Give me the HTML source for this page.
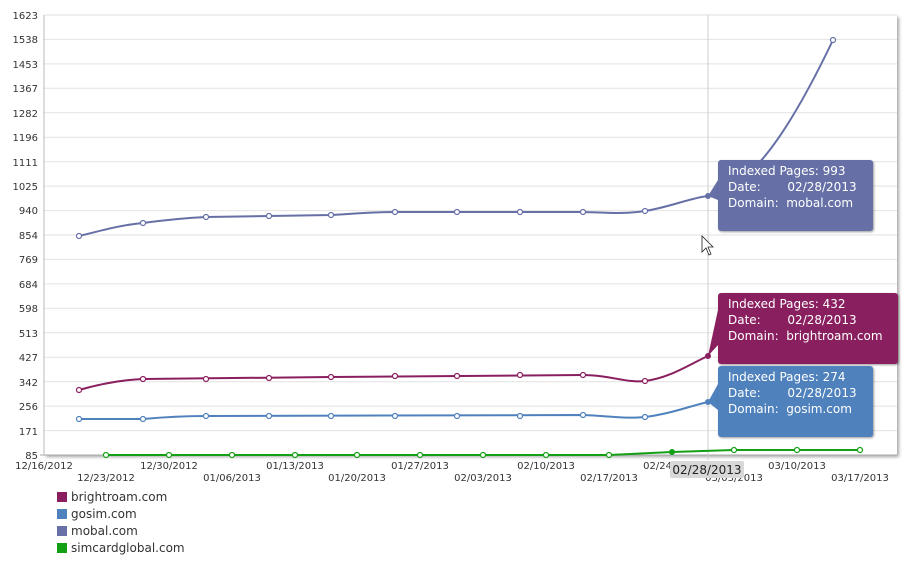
<!DOCTYPE html>
<html><head><style>
body{margin:0;background:#fff;font-family:"DejaVu Sans","Liberation Sans",sans-serif;}
.tt{position:absolute;color:#fff;font-size:12px;line-height:16px;padding:3px 10px;border-radius:3px;box-shadow:1px 1px 2px rgba(0,0,0,.4);white-space:pre;}
.lg{position:absolute;left:57px;font-size:12px;color:#333;}
.lg span{display:inline-block;width:10px;height:10px;margin-right:4px;vertical-align:-1px;}
</style></head><body>
<div style="position:relative;width:920px;height:567px;">
<svg width="920" height="567" style="position:absolute;left:0;top:0" font-family="DejaVu Sans, Liberation Sans, sans-serif" font-size="10" fill="#333">
<defs><filter id="sh"><feDropShadow dx="2" dy="2" stdDeviation="1.5" flood-opacity="0.35"/></filter></defs>
<rect x="44" y="15" width="853" height="440" fill="#fff" filter="url(#sh)"/>
<g stroke="#e2e2e2">
<line x1="44" x2="897" y1="15" y2="15"/><line x1="44" x2="897" y1="39.4" y2="39.4"/><line x1="44" x2="897" y1="63.9" y2="63.9"/><line x1="44" x2="897" y1="88.3" y2="88.3"/><line x1="44" x2="897" y1="112.8" y2="112.8"/><line x1="44" x2="897" y1="137.2" y2="137.2"/><line x1="44" x2="897" y1="161.7" y2="161.7"/><line x1="44" x2="897" y1="186.1" y2="186.1"/><line x1="44" x2="897" y1="210.6" y2="210.6"/><line x1="44" x2="897" y1="235" y2="235"/><line x1="44" x2="897" y1="259.4" y2="259.4"/><line x1="44" x2="897" y1="283.9" y2="283.9"/><line x1="44" x2="897" y1="308.3" y2="308.3"/><line x1="44" x2="897" y1="332.8" y2="332.8"/><line x1="44" x2="897" y1="357.2" y2="357.2"/><line x1="44" x2="897" y1="381.7" y2="381.7"/><line x1="44" x2="897" y1="406.1" y2="406.1"/><line x1="44" x2="897" y1="430.6" y2="430.6"/>
</g>
<line x1="44" y1="15" x2="44" y2="455" stroke="#bbb"/>
<line x1="40" y1="455" x2="897" y2="455" stroke="#aaa"/>
<line x1="708" y1="15" x2="708" y2="460" stroke="#ccc"/>
<g text-anchor="end">
<text x="38" y="19">1623</text><text x="38" y="43">1538</text><text x="38" y="68">1453</text><text x="38" y="92">1367</text><text x="38" y="117">1282</text><text x="38" y="141">1196</text><text x="38" y="166">1111</text><text x="38" y="190">1025</text><text x="38" y="214">940</text><text x="38" y="239">854</text><text x="38" y="263">769</text><text x="38" y="288">684</text><text x="38" y="312">598</text><text x="38" y="337">513</text><text x="38" y="361">427</text><text x="38" y="386">342</text><text x="38" y="410">256</text><text x="38" y="435">171</text><text x="38" y="459">85</text>
</g>
<g text-anchor="middle">
<text x="44" y="469">12/16/2012</text><text x="106" y="481">12/23/2012</text><text x="169" y="469">12/30/2012</text><text x="232" y="481">01/06/2013</text><text x="295" y="469">01/13/2013</text><text x="357" y="481">01/20/2013</text><text x="420" y="469">01/27/2013</text><text x="483" y="481">02/03/2013</text><text x="546" y="469">02/10/2013</text><text x="609" y="481">02/17/2013</text><text x="672" y="469">02/24/2013</text><text x="734" y="481">03/03/2013</text><text x="797" y="469">03/10/2013</text><text x="860" y="481">03/17/2013</text>
</g>
<g fill="none" stroke-width="2">
<path stroke="#6670a6" d="M79 236 C100 231,120 225,143 223 C165 220,185 218,206 217 L331 215 C350 214,370 212,395 212 L583 212 C610 213,625 214,645 211 C670 207,690 198,708 196 C750 190,790 130,833 40"/>
<path stroke="#8a1f5f" d="M79 390 C100 384,120 380,143 379 L331 377 L583 375 C610 375,625 383,645 381 C670 378,690 364,708 356"/>
<path stroke="#4f81bd" d="M79 419 L143 419 C165 417,185 416,206 416 L583 415 C610 416,625 419,645 417 C670 414,690 406,708 402"/>
<path stroke="#14a014" d="M106 455 L609 455 L672 452 L734 450 L860 450"/>
</g>
<g fill="#fff" stroke-width="1.2">
<g stroke="#6670a6"><circle cx="79" cy="236" r="2.5"/><circle cx="143" cy="223" r="2.5"/><circle cx="206" cy="217" r="2.5"/><circle cx="269" cy="216" r="2.5"/><circle cx="331" cy="215" r="2.5"/><circle cx="395" cy="212" r="2.5"/><circle cx="457" cy="212" r="2.5"/><circle cx="520" cy="212" r="2.5"/><circle cx="583" cy="212" r="2.5"/><circle cx="645" cy="211" r="2.5"/><circle cx="833" cy="40" r="2.5"/></g>
<g stroke="#8a1f5f"><circle cx="79" cy="390" r="2.5"/><circle cx="143" cy="379" r="2.5"/><circle cx="206" cy="379" r="2.5"/><circle cx="269" cy="378" r="2.5"/><circle cx="331" cy="377" r="2.5"/><circle cx="395" cy="376" r="2.5"/><circle cx="457" cy="376" r="2.5"/><circle cx="520" cy="375" r="2.5"/><circle cx="583" cy="375" r="2.5"/><circle cx="645" cy="381" r="2.5"/></g>
<g stroke="#4f81bd"><circle cx="79" cy="419" r="2.5"/><circle cx="143" cy="419" r="2.5"/><circle cx="206" cy="416" r="2.5"/><circle cx="269" cy="416" r="2.5"/><circle cx="331" cy="416" r="2.5"/><circle cx="395" cy="416" r="2.5"/><circle cx="457" cy="416" r="2.5"/><circle cx="520" cy="416" r="2.5"/><circle cx="583" cy="415" r="2.5"/><circle cx="645" cy="417" r="2.5"/></g>
<g stroke="#14a014"><circle cx="106" cy="455" r="2.5"/><circle cx="169" cy="455" r="2.5"/><circle cx="232" cy="455" r="2.5"/><circle cx="295" cy="455" r="2.5"/><circle cx="357" cy="455" r="2.5"/><circle cx="420" cy="455" r="2.5"/><circle cx="483" cy="455" r="2.5"/><circle cx="546" cy="455" r="2.5"/><circle cx="609" cy="455" r="2.5"/><circle cx="734" cy="450" r="2.5"/><circle cx="797" cy="450" r="2.5"/><circle cx="860" cy="450" r="2.5"/></g>
</g>
<circle cx="672" cy="452" r="3" fill="#14a014"/>
<path fill="#6670a6" d="M718 180 L708 196 L718 200Z"/>
<path fill="#8a1f5f" d="M718 310 L708 356 L718 345Z"/>
<path fill="#4f81bd" d="M718 384 L708 402 L718 410Z"/>
<circle cx="708" cy="196" r="3" fill="#6670a6"/><circle cx="708" cy="356" r="3" fill="#8a1f5f"/><circle cx="708" cy="402" r="3" fill="#4f81bd"/>
<rect x="670" y="461" width="74" height="17" rx="2" fill="#d8d8d8"/>
<text x="707" y="474" text-anchor="middle" font-size="12" fill="#222">02/28/2013</text>
<path d="M702 236 L702 252 L706 248 L709 255 L711 254 L708 247 L713 247Z" fill="#fff" stroke="#222" stroke-width="0.8"/>
</svg>
<div class="tt" style="left:718px;top:160px;width:135px;height:65px;background:#6670a6">Indexed Pages: 993
Date:       02/28/2013
Domain:  mobal.com</div>
<div class="tt" style="left:718px;top:293px;width:160px;height:65px;background:#8a1f5f">Indexed Pages: 432
Date:       02/28/2013
Domain:  brightroam.com</div>
<div class="tt" style="left:718px;top:366px;width:135px;height:65px;background:#4f81bd">Indexed Pages: 274
Date:       02/28/2013
Domain:  gosim.com</div>
<div class="lg" style="top:490px"><span style="background:#8a1f5f"></span>brightroam.com</div>
<div class="lg" style="top:507px"><span style="background:#4f81bd"></span>gosim.com</div>
<div class="lg" style="top:524px"><span style="background:#6670a6"></span>mobal.com</div>
<div class="lg" style="top:541px"><span style="background:#14a014"></span>simcardglobal.com</div>
</div>
</body></html>
